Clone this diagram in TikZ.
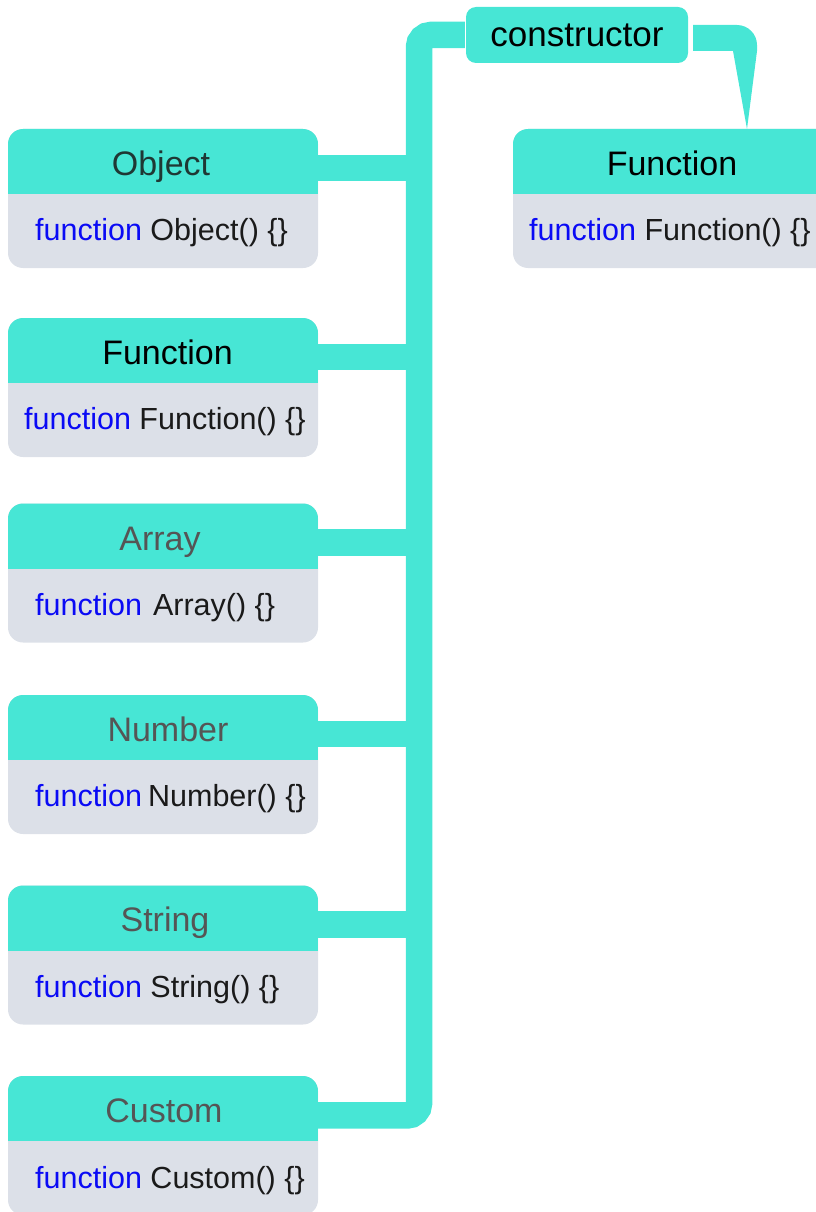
\documentclass[tikz,border=0pt]{standalone}
\usepackage{fontspec}
\setmainfont{Liberation Sans}
\definecolor{tealc}{HTML}{47E6D5}
\definecolor{bodyc}{HTML}{DCE0E8}
\definecolor{kwc}{HTML}{0A0AF5}
\definecolor{grayt}{HTML}{555555}
\definecolor{darkt}{HTML}{1F3834}
\definecolor{txt}{HTML}{1A1A1A}
\tikzset{
  ubox/.style={fill=bodyc, rounded corners=15pt, minimum width=310pt, minimum height=139pt, inner sep=0pt,
    path picture={\fill[tealc, sharp corners] ([yshift=1pt]path picture bounding box.north west) rectangle ([yshift=-65pt]path picture bounding box.north east);}},
  hdr/.style={anchor=base, inner sep=0pt, font=\fontsize{34}{40}\selectfont},
  bodytxt/.style={anchor=base west, inner sep=0pt, font=\fontsize{30.5}{36}\selectfont, text=txt},
  conn/.style={draw=tealc, line width=26.5pt},
  consbox/.style={fill=tealc, rounded corners=10pt, minimum width=222pt, minimum height=56pt, inner sep=0pt, font=\fontsize{35}{40}\selectfont}
}
\newcommand\kw[1]{\textcolor{kwc}{#1}}
\begin{document}
\begin{tikzpicture}[x=1pt,y=-1pt]
\useasboundingbox (0,0) rectangle (816,1212);
\clip (0,0) rectangle (816,1212);

% boxes
\node[ubox] (obj) at (163,198.5) {};
\node[ubox] (fun) at (163,387.5) {};
\node[ubox] (arr) at (163,573) {};
\node[ubox] (num) at (163,764.5) {};
\node[ubox] (str) at (163,955) {};
\node[ubox] (cus) at (163,1145.5) {};
\node[ubox, minimum width=330pt] (rfun) at (678,198.5) {};

% header texts
\node[hdr, text=darkt] (objH) at (161,175) {Object};
\node[hdr, text=black] (funH) at (167.5,364) {Function};
\node[hdr, text=grayt] (arrH) at (160,550) {Array};
\node[hdr, text=grayt] (numH) at (168,741) {Number};
\node[hdr, text=grayt] (strH) at (165,931) {String};
\node[hdr, text=grayt] (cusH) at (164,1122) {Custom};
\node[hdr, text=black] (rfunH) at (672,175) {Function};

% body texts
\node[bodytxt] (objB) at (35,240) {\kw{function} Object() \{\}};
\node[bodytxt] (funB) at (24,429) {\kw{function} Function() \{\}};
\node[bodytxt] (arrB) at (35,615) {\kw{function}\hspace{0.36em}Array() \{\}};
\node[bodytxt] (numB) at (35,806) {\kw{function}\hspace{0.2em}Number() \{\}};
\node[bodytxt] (strB) at (35,997) {\kw{function} String() \{\}};
\node[bodytxt] (cusB) at (35,1188) {\kw{function} Custom() \{\}};
\node[bodytxt] (rfunB) at (529,240) {\kw{function} Function() \{\}};

% constructor
\node[consbox] (cons) at (577,35) {constructor};

% spine coordinates
\coordinate (sTop) at (419,35);
\coordinate (sBot) at (419,1115.5);

% main spine
\draw[conn, rounded corners=12pt] ([xshift=-1pt]cons.west) -- (sTop) -- (sBot) -- ([yshift=-39.5pt]cus.north east);

% stubs
\foreach \b in {obj,fun,arr,num,str}{
  \draw[conn] ([yshift=-39pt]\b.north east) -- ([yshift=-39pt]\b.north east -| sTop);
}

% right connector to Function (tapered)
\coordinate (rcs) at ([xshift=5pt]cons.east);
\coordinate (tip) at (747,129);
\fill[tealc] (rcs |- 0,25) -- (737,25) .. controls (748,25) and (757,34) .. (757,45)
  -- (757,51) -- (tip) -- (733,51) -- (rcs |- 0,51) -- cycle;
\end{tikzpicture}
\end{document}
